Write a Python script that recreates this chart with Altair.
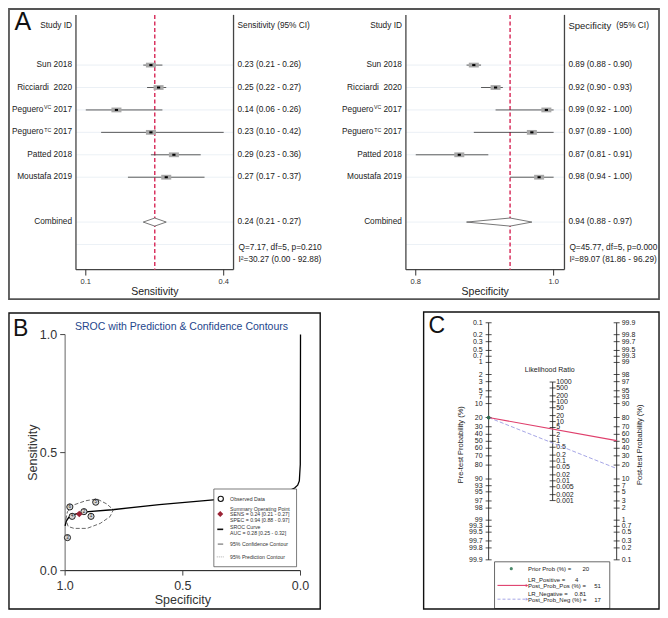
import altair as alt
import numpy as np
import pandas as pd

FONT = "Liberation Sans"
TXT = "#222222"
SX = 652 / 662
SY = 602 / 612


def X(v):
    return round((v - 3) * SX, 2)


def Y(v):
    return round((v - 3) * SY, 2)


# ---------------- data ----------------
study_names = ["Sun", "Ricciardi\u00a0", "Peguero", "Peguero", "Patted", "Moustafa"]
study_sup = ["", "", "VC", "TC", "", ""]
study_years = ["2018", "2020", "2017", "2017", "2018", "2019"]

sens = [0.23, 0.25, 0.14, 0.23, 0.29, 0.27]
sens_lo = [0.21, 0.22, 0.06, 0.10, 0.23, 0.17]
sens_hi = [0.26, 0.27, 0.26, 0.42, 0.36, 0.37]
sens_pooled = [0.24, 0.21, 0.27]
sens_het = ["Q=7.17, df=5, p=0.210", "I\u00b2=30.27 (0.00 - 92.88)"]

spec = [0.89, 0.92, 0.99, 0.97, 0.87, 0.98]
spec_lo = [0.88, 0.90, 0.92, 0.89, 0.81, 0.94]
spec_hi = [0.90, 0.93, 1.00, 1.00, 0.91, 1.00]
spec_pooled = [0.94, 0.88, 0.97]
spec_het = ["Q=45.77, df=5, p=0.000", "I\u00b2=89.07 (81.86 - 96.29)"]

sroc_spec = [1.0, 0.995, 0.985, 0.97, 0.95, 0.9, 0.8, 0.6, 0.37, 0.2, 0.1, 0.05, 0.025, 0.012, 0.005, 0.001, 0.0]
sroc_sens = [0.19, 0.21, 0.225, 0.235, 0.242, 0.25, 0.258, 0.28, 0.30, 0.315, 0.325, 0.338, 0.35, 0.362, 0.38, 0.45, 1.0]
sroc_auc = [0.28, 0.25, 0.32]

conf_spec = [0.997, 0.99, 0.962, 0.913, 0.865, 0.824, 0.795, 0.809, 0.851, 0.907, 0.962, 0.987, 0.997]
conf_sens = [0.217, 0.25, 0.279, 0.296, 0.304, 0.283, 0.258, 0.229, 0.2, 0.179, 0.179, 0.187, 0.217]

prob_ticks = [0.1, 0.2, 0.3, 0.5, 0.7, 1, 2, 3, 5, 7, 10, 20, 30, 40, 50, 60, 70, 80, 90, 93, 95, 97, 98, 99,
              99.3, 99.5, 99.7, 99.8, 99.9]
lr_ticks = [1000, 500, 200, 100, 50, 20, 10, 5, 2, 1, 0.5, 0.2, 0.1, 0.05, 0.02, 0.01, 0.005, 0.002, 0.001]
prior_prob = 20
lr_pos, post_pos = 4, 51
lr_neg, post_neg = 0.81, 17


# ---------------- helpers ----------------
def one():
    return alt.Chart(pd.DataFrame({"a": [0]}))


def tx(text, x, y, size=8.3, align="left", baseline="middle", color=TXT, angle=0):
    return alt.Chart(pd.DataFrame({"t": [text]})).mark_text(
        align=align, baseline=baseline, fontSize=size, font=FONT, color=color, angle=angle
    ).encode(x=alt.value(X(x)), y=alt.value(Y(y)), text="t:N")


def seg(x1, y1, x2, y2, color, sw, dash=None):
    kw = dict(color=color, strokeWidth=sw)
    if dash:
        kw["strokeDash"] = dash
    return one().mark_rule(**kw).encode(
        x=alt.value(X(x1)), x2=alt.value(X(x2)), y=alt.value(Y(y1)), y2=alt.value(Y(y2))
    )


def box(x1, y1, x2, y2, stroke, sw, fill=None):
    kw = dict(stroke=stroke, strokeWidth=sw)
    if fill:
        kw["fill"] = fill
    else:
        kw["fillOpacity"] = 0
    return one().mark_rect(**kw).encode(
        x=alt.value(X(x1)), x2=alt.value(X(x2)), y=alt.value(Y(y1)), y2=alt.value(Y(y2))
    )


# ---------------- panel A: forest plots ----------------
ROW_DOMAIN = [-1.3, 10.1]
STUDY_ROWS = [1, 2, 3, 4, 5, 6]
COMBINED_ROW = 8
HET_ROWS = [9.17, 9.7]
GRID_ROWS = STUDY_ROWS + [COMBINED_ROW, 9]
DIAMOND_HALF = 0.18
FS = 8.3
W_YEAR = (0.278 + 4 * 0.556) * FS


def forest(est, lo, hi, pooled, het, box_l, box_r, tick_l, tick_r, label_r, text_l, title, headers):
    xs = alt.Scale(domain=[min(lo), max(hi)], range=[X(tick_l), X(tick_r)], nice=False, zero=False)
    ys = alt.Scale(domain=ROW_DOMAIN, range=[Y(8.6), Y(268.5)], nice=False, zero=False)

    def xe(f):
        return alt.X(f, type="quantitative", scale=xs, axis=None)

    def ye(f):
        return alt.Y(f, type="quantitative", scale=ys, axis=None)

    df = pd.DataFrame({"row": STUDY_ROWS, "est": est, "lo": lo, "hi": hi,
                       "name": study_names, "sup": study_sup, "year": study_years})
    df["ci"] = [f"{e:.2f} ({l:.2f} - {h:.2f})" for e, l, h in zip(est, lo, hi)]
    df["label"] = df["name"] + " " + df["year"]
    plain = df[df["sup"] == ""]
    supd = df[df["sup"] != ""]
    base = alt.Chart(df)

    L = []
    L.append(alt.Chart(pd.DataFrame({"r": GRID_ROWS})).mark_rule(color="#e2e9f0", strokeWidth=0.7).encode(
        x=alt.value(X(box_l)), x2=alt.value(X(box_r)), y=ye("r")))
    L.append(seg(box_l, 10, box_l, 269, "#444444", 1.3))
    L.append(seg(box_r, 10, box_r, 269, "#444444", 1.3))
    L.append(seg(box_l, 269, box_r, 269, "#444444", 1.3))
    L.append(alt.Chart(pd.DataFrame({"e": [pooled[0]]})).mark_rule(
        color="#d93461", strokeWidth=1.5, strokeDash=[4, 2.5]).encode(
        x=xe("e"), y=alt.value(Y(10)), y2=alt.value(Y(269))))
    L.append(base.mark_rule(color="#333333", strokeWidth=0.8).encode(x=xe("lo"), x2="hi:Q", y=ye("row")))
    L.append(base.mark_rect(color="#a8a8a8", xOffset=-5, x2Offset=5, yOffset=-2.4, y2Offset=2.4).encode(
        x=xe("est"), x2="est:Q", y=ye("row"), y2="row:Q"))
    L.append(base.mark_rect(color="#000000", xOffset=-1.6, x2Offset=1.6, yOffset=-1, y2Offset=1).encode(
        x=xe("est"), x2="est:Q", y=ye("row"), y2="row:Q"))
    dia = pd.DataFrame({"x": [pooled[1], pooled[0], pooled[2]],
                        "y": [COMBINED_ROW, COMBINED_ROW - DIAMOND_HALF, COMBINED_ROW],
                        "y2": [COMBINED_ROW, COMBINED_ROW + DIAMOND_HALF, COMBINED_ROW]})
    L.append(alt.Chart(dia).mark_area(fill="white", stroke="#555555", strokeWidth=0.8, orient="vertical").encode(
        x=xe("x"), y=ye("y"), y2="y2:Q"))
    # labels
    L.append(alt.Chart(plain).mark_text(align="right", baseline="middle", fontSize=FS, font=FONT, color=TXT).encode(
        x=alt.value(X(label_r)), y=ye("row"), text="label:N"))
    L.append(alt.Chart(supd).mark_text(align="right", baseline="middle", fontSize=FS, font=FONT, color=TXT).encode(
        x=alt.value(X(label_r)), y=ye("row"), text="year:N"))
    L.append(alt.Chart(supd).mark_text(align="right", baseline="middle", fontSize=5.2, font=FONT, color=TXT,
                                       dy=-2.5).encode(
        x=alt.value(X(label_r) - W_YEAR), y=ye("row"), text="sup:N"))
    L.append(alt.Chart(supd).mark_text(align="right", baseline="middle", fontSize=FS, font=FONT, color=TXT).encode(
        x=alt.value(X(label_r) - W_YEAR - 7.8), y=ye("row"), text="name:N"))
    comb = pd.DataFrame({"row": [COMBINED_ROW], "lab": ["Combined"],
                         "ci": [f"{pooled[0]:.2f} ({pooled[1]:.2f} - {pooled[2]:.2f})"]})
    L.append(alt.Chart(comb).mark_text(align="right", baseline="middle", fontSize=FS, font=FONT, color=TXT).encode(
        x=alt.value(X(label_r)), y=ye("row"), text="lab:N"))
    L.append(alt.Chart(comb).mark_text(align="left", baseline="middle", fontSize=FS, font=FONT, color=TXT).encode(
        x=alt.value(X(text_l)), y=ye("row"), text="ci:N"))
    L.append(base.mark_text(align="left", baseline="middle", fontSize=FS, font=FONT, color=TXT).encode(
        x=alt.value(X(text_l)), y=ye("row"), text="ci:N"))
    hdf = pd.DataFrame({"row": HET_ROWS, "t": het})
    L.append(alt.Chart(hdf).mark_text(align="left", baseline="middle", fontSize=FS, font=FONT, color=TXT).encode(
        x=alt.value(X(text_l + 1)), y=ye("row"), text="t:N"))
    L.append(tx("Study ID", label_r, 21, FS, align="right"))
    for t, x, s in headers:
        L.append(tx(t, x, 21, s))
    tk = pd.DataFrame({"v": [min(lo), max(hi)]})
    L.append(alt.Chart(tk).mark_rule(color="#333333", strokeWidth=1).encode(
        x=xe("v"), y=alt.value(Y(269)), y2=alt.value(Y(275))))
    L.append(alt.Chart(tk).mark_text(fontSize=7.5, font=FONT, color="#333333", baseline="middle").encode(
        x=xe("v"), y=alt.value(Y(282)), text=alt.Text("v:Q", format=".1f")))
    L.append(tx(title, (box_l + box_r) / 2, 291.5, 10.5, align="center"))
    return alt.layer(*L)


forest_sens = forest(sens, sens_lo, sens_hi, sens_pooled, sens_het, 72, 232, 82, 222, 68, 236,
                     "Sensitivity", [("Sensitivity (95% CI)", 236, FS)])
forest_spec = forest(spec, spec_lo, spec_hi, spec_pooled, spec_het, 407, 568, 417, 557, 403, 572,
                     "Specificity", [("Specificity", 572, 9.5), ("(95% CI)", 620.5, FS)])

# ---------------- panel B: SROC ----------------
xsB = alt.Scale(domain=[0, 1], range=[X(300), X(61)], nice=False, zero=False)
ysB = alt.Scale(domain=[0, 1], range=[Y(575), Y(335)], nice=False, zero=False)


def xb(f):
    return alt.X(f, type="quantitative", scale=xsB, axis=None)


def yb(f):
    return alt.Y(f, type="quantitative", scale=ysB, axis=None)


B = []
B.append(alt.Chart(pd.DataFrame({"x": [1], "y": [0], "y2": [1]})).mark_rule(color="#666666", strokeWidth=1).encode(
    x=xb("x"), y=yb("y"), y2="y2:Q"))
B.append(alt.Chart(pd.DataFrame({"x": [1], "x2": [0], "y": [0]})).mark_rule(color="#111111", strokeWidth=1).encode(
    x=xb("x"), x2="x2:Q", y=yb("y")))
tB = pd.DataFrame({"t": [0, 0.5, 1]})
B.append(alt.Chart(tB).mark_rule(color="#444444").encode(x=alt.value(X(56)), x2=alt.value(X(61)), y=yb("t")))
B.append(alt.Chart(tB).mark_rule(color="#444444").encode(x=xb("t"), y=alt.value(Y(575)), y2=alt.value(Y(580))))
B.append(alt.Chart(tB).mark_text(align="right", baseline="middle", fontSize=12.5, font=FONT, color="#333333").encode(
    x=alt.value(X(53)), y=yb("t"), text=alt.Text("t:Q", format=".1f")))
B.append(alt.Chart(tB).mark_text(align="center", baseline="middle", fontSize=12.5, font=FONT, color="#333333").encode(
    x=xb("t"), y=alt.value(Y(591)), text=alt.Text("t:Q", format=".1f")))
sroc_df = pd.DataFrame({"spec": sroc_spec, "sens": sroc_sens, "i": range(len(sroc_spec))})
B.append(alt.Chart(sroc_df).mark_line(color="black", strokeWidth=1.3).encode(
    x=xb("spec"), y=yb("sens"), order="i:Q"))
conf_df = pd.DataFrame({"spec": conf_spec, "sens": conf_sens, "i": range(len(conf_spec))})
B.append(alt.Chart(conf_df).mark_line(color="#444444", strokeWidth=0.8, strokeDash=[4, 2]).encode(
    x=xb("spec"), y=yb("sens"), order="i:Q"))
obs = pd.DataFrame({"spec": spec, "sens": sens, "n": [str(i + 1) for i in range(len(spec))]})
B.append(alt.Chart(obs).mark_point(shape="circle", size=38, filled=True, fill="#d6d6d6", stroke="#111111",
                                   strokeWidth=0.9, opacity=1).encode(x=xb("spec"), y=yb("sens")))
B.append(alt.Chart(obs).mark_text(fontSize=4.5, font=FONT, color="#222222", baseline="middle").encode(
    x=xb("spec"), y=yb("sens"), text="n:N"))
B.append(alt.Chart(pd.DataFrame({"spec": [spec_pooled[0]], "sens": [sens_pooled[0]]})).mark_point(
    shape="diamond", filled=True, color="#9b2335", size=45, opacity=1).encode(x=xb("spec"), y=yb("sens")))
# legend
B.append(box(212, 492, 296, 571, "#444444", 0.7, fill="white"))
B.append(one().mark_point(shape="circle", size=28, filled=True, fill="white", stroke="#111111", strokeWidth=1.1,
                          opacity=1).encode(x=alt.value(X(219)), y=alt.value(Y(502))))
B.append(one().mark_point(shape="diamond", filled=True, color="#9b2335", size=36, opacity=1).encode(
    x=alt.value(X(218.5)), y=alt.value(Y(517.5))))
B.append(seg(215.5, 533, 221.5, 533, "#111111", 1.6))
B.append(seg(216, 548, 221.5, 548, "#333333", 0.8))
B.append(seg(215, 561, 222, 561, "#999999", 0.8, dash=[1, 1]))
LS = 5.2
legB = [
    ("Observed Data", 502),
    ("Summary Operating Point", 512),
    (f"SENS = {sens_pooled[0]:.2f} [{sens_pooled[1]:.2f} - {sens_pooled[2]:.2f}]", 517.5),
    (f"SPEC = {spec_pooled[0]:.2f} [{spec_pooled[1]:.2f} - {spec_pooled[2]:.2f}]", 523),
    ("SROC Curve", 531),
    (f"AUC = {sroc_auc[0]:.2f} [{sroc_auc[1]:.2f} - {sroc_auc[2]:.2f}]", 536.5),
    ("95% Confidence Contour", 548),
    ("95% Prediction Contour", 561),
]
for t, y in legB:
    B.append(tx(t, 228.5, y, LS, color="#333333"))
B.append(tx("SROC with Prediction & Confidence Contours", 71, 327.5, 10.5, color="#24468c"))
B.append(tx("Sensitivity", 28, 455, 12.5, align="center", angle=270, color="#333333"))
B.append(tx("Specificity", 180.5, 605, 12.5, align="center", color="#333333"))
panelB = alt.layer(*B)

# ---------------- panel C: Fagan nomogram ----------------
pre = pd.DataFrame({"p": prob_ticks})
pre["y"] = np.log(pre["p"] / (100 - pre["p"]))
pre["lab"] = [f"{v:g}" for v in prob_ticks]
pre["x"] = 0.0
post = pd.DataFrame({"q": prob_ticks})
post["y"] = np.log((100 - post["q"]) / post["q"])
post["lab"] = [f"{v:g}" for v in prob_ticks]
post["x"] = 1.0
lrd = pd.DataFrame({"lr": lr_ticks})
lrd["y"] = -np.log(lrd["lr"]) / 2
lrd["lab"] = [f"{v:g}" for v in lr_ticks]
lrd["x"] = 0.5

xsC = alt.Scale(domain=[0, 1], range=[X(491), X(621)], nice=False, zero=False)
ysC = alt.Scale(domain=[float(pre["y"].min()), float(pre["y"].max())], range=[Y(323), Y(564)], nice=False,
                zero=False)


def xc(f):
    return alt.X(f, type="quantitative", scale=xsC, axis=None)


def yc(f):
    return alt.Y(f, type="quantitative", scale=ysC, axis=None)


C = []
axes_c = pd.DataFrame({"x": [0.0, 0.5, 1.0],
                       "y": [pre["y"].min(), lrd["y"].min(), post["y"].min()],
                       "y2": [pre["y"].max(), lrd["y"].max(), post["y"].max()]})
C.append(alt.Chart(axes_c).mark_rule(color="#222222", strokeWidth=0.9).encode(x=xc("x"), y=yc("y"), y2="y2:Q"))
allticks = pd.concat([pre[["x", "y"]], post[["x", "y"]], lrd[["x", "y"]]])
C.append(alt.Chart(allticks).mark_rule(color="#222222", strokeWidth=0.8, xOffset=-3, x2Offset=3).encode(
    x=xc("x"), x2="x:Q", y=yc("y")))
C.append(alt.Chart(pre).mark_text(align="right", baseline="middle", dx=-6, fontSize=7, font=FONT, color=TXT).encode(
    x=xc("x"), y=yc("y"), text="lab:N"))
C.append(alt.Chart(post).mark_text(align="left", baseline="middle", dx=5, fontSize=7, font=FONT, color=TXT).encode(
    x=xc("x"), y=yc("y"), text="lab:N"))
C.append(alt.Chart(lrd).mark_text(align="left", baseline="middle", dx=3.5, fontSize=7, font=FONT, color=TXT).encode(
    x=xc("x"), y=yc("y"), text="lab:N"))


def logit(p):
    return float(np.log(p / (100 - p)))


pos_line = pd.DataFrame({"x": [0, 1], "y": [logit(prior_prob), -logit(post_pos)]})
neg_line = pd.DataFrame({"x": [0, 1], "y": [logit(prior_prob), -logit(post_neg)]})
C.append(alt.Chart(neg_line).mark_line(color="#a6a6e6", strokeWidth=1, strokeDash=[4, 2]).encode(
    x=xc("x"), y=yc("y")))
C.append(alt.Chart(pos_line).mark_line(color="#df3f6c", strokeWidth=1.2).encode(x=xc("x"), y=yc("y")))
C.append(alt.Chart(pd.DataFrame({"x": [0], "y": [logit(prior_prob)]})).mark_point(
    filled=True, color="#2f6b50", size=14, opacity=1).encode(x=xc("x"), y=yc("y")))
C.append(tx("Likelihood Ratio", 553, 371, 7, align="center"))
C.append(tx("Pre-test Probability (%)", 463, 447, 7.5, align="center", angle=270))
C.append(tx("Post-test Probability (%)", 645, 447, 7.5, align="center", angle=270))
# legend
C.append(box(497, 566, 614, 613.5, "#444444", 0.8, fill="white"))
C.append(one().mark_point(filled=True, color="#4d8a6c", size=10, opacity=1).encode(
    x=alt.value(X(514)), y=alt.value(Y(573))))
C.append(seg(500, 590, 529, 590, "#df3f6c", 1.1))
C.append(one().mark_point(shape="triangle-right", filled=True, color="#df3f6c", size=9, opacity=1).encode(
    x=alt.value(X(530)), y=alt.value(Y(590))))
C.append(seg(500, 604, 529, 604, "#a6a6e6", 1, dash=[3, 2]))
C.append(one().mark_point(shape="triangle-right", filled=True, color="#a6a6e6", size=9, opacity=1).encode(
    x=alt.value(X(530)), y=alt.value(Y(604))))
CS = 6
legC = [
    ("Prior Prob (%) =", 573, f"{prior_prob:g}", 593),
    ("LR_Positive =", 584.5, f"{lr_pos:g}", 582),
    ("Post_Prob_Pos (%) =", 590.5, f"{post_pos:g}", 605),
    ("LR_Negative =", 599, f"{lr_neg:g}", 590),
    ("Post_Prob_Neg (%) =", 605, f"{post_neg:g}", 605),
]
for t, y, v, vx in legC:
    C.append(tx(t, 531, y, CS))
    C.append(tx(v, vx, y, CS, align="right"))
panelC = alt.layer(*C)

# ---------------- frames & letters ----------------
deco = [
    box(4, 4, 664, 299, "#555555", 1.8),
    box(4, 313, 320, 614, "#111111", 1.4),
    box(425, 312, 664, 614, "#111111", 1.4),
    tx("A", 9.5, 25.5, 25, baseline="alphabetic", color="#111111"),
    tx("B", 8, 336.5, 23, baseline="alphabetic", color="#111111"),
    tx("C", 430, 333.5, 23, baseline="alphabetic", color="#111111"),
]

chart = alt.layer(forest_sens, forest_spec, panelB, panelC, *deco).resolve_scale(
    x="independent", y="independent"
).properties(
    width=652, height=602, padding=0, autosize=alt.AutoSizeParams(type="none")
).configure_view(stroke=None)

chart.save("out.html", embed_options={"renderer": "svg", "actions": False})
